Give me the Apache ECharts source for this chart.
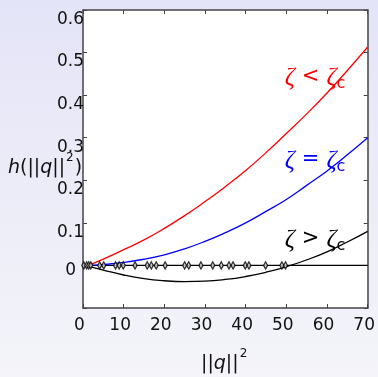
<!DOCTYPE html>
<html><head><meta charset="utf-8">
<script src="https://cdn.jsdelivr.net/npm/echarts@6/dist/echarts.min.js"></script>
<style>
html,body{margin:0;padding:0;width:378px;height:377px;overflow:hidden;background:linear-gradient(180deg,#e4e4f8 0%,#ececf8 50%,#f4f4fa 100%);}
#c{width:378px;height:377px;}
</style></head><body><div id="c"></div>
<script>
// ---- data ----
const xTicks = [0, 10, 20, 30, 40, 50, 60, 70];
const yTicks = [0, 0.1, 0.2, 0.3, 0.4, 0.5, 0.6];
const redQ   = [1.2, 5, 10, 15, 20, 25, 30, 35, 40, 45, 50, 55, 60, 65, 70];
const redH   = [0, 0.015, 0.037, 0.060, 0.087, 0.117, 0.150, 0.185, 0.223, 0.265, 0.310, 0.356, 0.405, 0.458, 0.513];
const blueQ  = [1.5, 5, 10, 15, 20, 25, 30, 35, 40, 45, 50, 55, 60, 65, 70];
const blueH  = [0, 0.002, 0.007, 0.0145, 0.025, 0.039, 0.0565, 0.077, 0.100, 0.127, 0.155, 0.188, 0.222, 0.260, 0.300];
const blackQ = [0.5, 5, 10, 15, 20, 25, 30, 35, 40, 45, 50, 55, 60, 65, 70];
const blackH = [0, -0.011, -0.0225, -0.031, -0.036, -0.038, -0.037, -0.033, -0.026, -0.016, -0.003, 0.013, 0.032, 0.055, 0.080];
const zeroQ  = [0, 70];
const zeroH  = [0, 0];
const nodeQ  = [0.2, 0.9, 1.4, 1.9, 4.1, 5.1, 8.0, 8.9, 9.9, 12.8, 15.8, 16.8, 18.0, 20.2, 25.0, 26.0, 29.0, 31.9, 34.0, 35.9, 36.9, 39.9, 40.8, 44.9, 48.9, 49.8];
const labelTexts = ['<', '=', '>'];
const labelAnchors = [[49.6, 0.44], [49.6, 0.245], [49.6, 0.06]];
const labelColors = ['#ff0000', '#0000ff', '#000000'];

const pair = (xs, ys) => xs.map((x, i) => [x, ys[i]]);
const chart = echarts.init(document.getElementById('c'), null, {renderer: 'canvas'});
const F = 'DejaVu Sans';
const axisCol = '#444';
const yFmt = v => (Math.abs(v) < 1e-9 ? '{z|0}' : (v < -0.05 ? '' : '{n|' + v.toFixed(1) + '}'));
const common = {
  axisLine: {show: true, onZero: false, lineStyle: {color: axisCol, width: 1.5}},
  splitLine: {show: false}
};
chart.setOption({
  backgroundColor: 'transparent',
  animation: false,
  grid: {left: 83, right: 8, top: 10, bottom: 69, show: true, backgroundColor: '#fff', borderWidth: 0},
  xAxis: [
    Object.assign({type: 'value', min: 0, max: 70, interval: 10, position: 'bottom',
      axisTick: {show: true, inside: true, length: 4, lineStyle: {color: axisCol}},
      axisLabel: {fontFamily: F, fontSize: 17, color: '#111', margin: 9, padding: [0, 7, 0, 0],
        formatter: v => xTicks.includes(v) ? String(v) : ''}}, common),
    Object.assign({type: 'value', min: 0, max: 70, interval: 10, position: 'top',
      axisTick: {show: true, inside: true, length: 4, lineStyle: {color: axisCol}},
      axisLabel: {show: false}}, common)
  ],
  yAxis: [
    Object.assign({type: 'value', min: -0.1, max: 0.6, interval: 0.1, position: 'left',
      axisTick: {show: true, inside: true, length: 4, lineStyle: {color: axisCol}},
      axisLabel: {fontFamily: F, fontSize: 17, color: '#111', margin: -1, verticalAlign: 'top',
        formatter: yFmt,
        rich: {n: {fontFamily: F, fontSize: 17, color: '#111', padding: [1, 0, 0, 0]},
               z: {fontFamily: F, fontSize: 17, color: '#111', padding: [-3, 8, 0, 0]}}}}, common),
    Object.assign({type: 'value', min: -0.1, max: 0.6, interval: 0.1, position: 'right',
      axisTick: {show: true, inside: true, length: 4, lineStyle: {color: axisCol}},
      axisLabel: {show: false}}, common)
  ],
  series: [
    {type: 'line', data: pair(zeroQ, zeroH), symbol: 'none', lineStyle: {color: '#000', width: 1.3}, z: 2},
    {type: 'line', data: pair(redQ, redH), smooth: true, symbol: 'none', lineStyle: {color: '#ff0000', width: 1.3}, z: 3},
    {type: 'line', data: pair(blueQ, blueH), smooth: true, symbol: 'none', lineStyle: {color: '#0000ff', width: 1.3}, z: 3},
    {type: 'line', data: pair(blackQ, blackH), smooth: true, symbol: 'none', lineStyle: {color: '#000', width: 1.3}, z: 3},
    {type: 'scatter', data: nodeQ.map(q => [q, 0]), symbol: 'diamond', symbolSize: [4, 7],
      itemStyle: {color: '#ddd', borderColor: '#000', borderWidth: 1.4}, z: 4}
  ]
});
const S = 'Liberation Serif';
const gfx = labelTexts.map((op, i) => {
  const p = chart.convertToPixel({xAxisIndex: 0, yAxisIndex: 0}, labelAnchors[i]);
  const c = labelColors[i];
  return {type: 'text', left: p[0], top: p[1] - 12, z: 10,
    style: {text: '{z|ζ}{o|' + op + '}{z|ζ}{s|c}', fill: c,
      rich: {z: {fontFamily: S, fontStyle: 'italic', fontSize: 25, fill: c, verticalAlign: 'top', lineHeight: 24},
             o: {fontFamily: F, fontSize: 21, fill: c, verticalAlign: 'top', lineHeight: 24, padding: [0, 7, 0, 7]},
             s: {fontFamily: F, fontSize: 16, fill: c, verticalAlign: 'top', lineHeight: 18, padding: [10, 0, 0, 0]}}}};
});
const supStyle = {fontFamily: F, fontSize: 12, fill: '#111', verticalAlign: 'top', lineHeight: 26, padding: [0, 1, 0, 1]};
const mainI = {fontFamily: F, fontStyle: 'italic', fontSize: 19, fill: '#111', verticalAlign: 'bottom', lineHeight: 26};
const mainR = {fontFamily: F, fontSize: 19, fill: '#111', verticalAlign: 'bottom', lineHeight: 26};
gfx.push({type: 'text', left: 8, top: 152, z: 10,
  style: {text: '{i|h}{r|(||}{i|q}{r|||}{p|2}{r|)}', rich: {i: mainI, r: mainR, p: supStyle}}});
gfx.push({type: 'text', left: 201, top: 348, z: 10,
  style: {text: '{r|||}{i|q}{r|||}{p|2}', rich: {i: mainI, r: mainR, p: supStyle}}});
chart.setOption({graphic: gfx});
</script></body></html>
